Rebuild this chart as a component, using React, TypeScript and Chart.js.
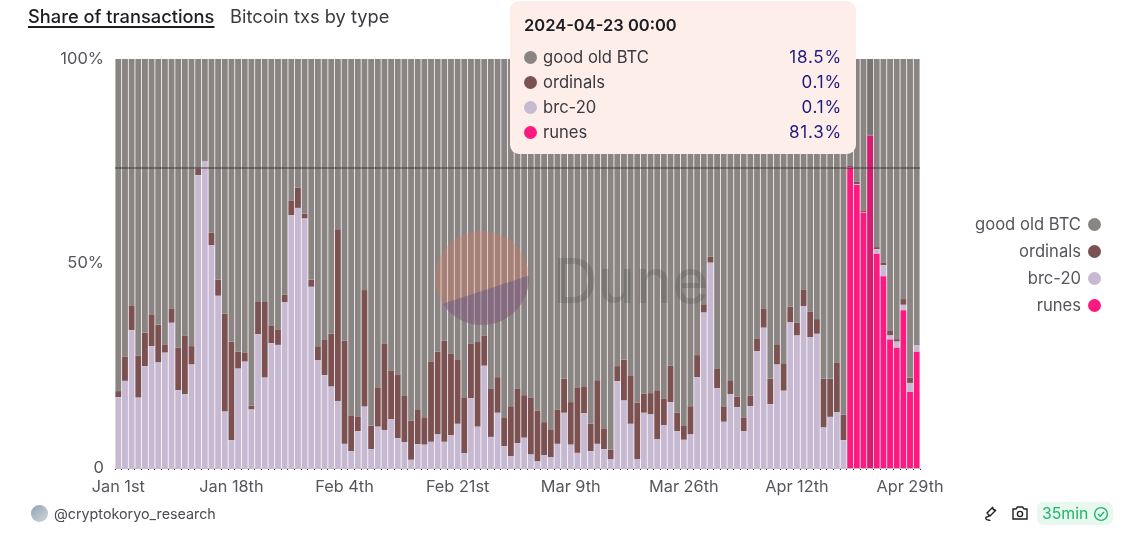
import { useEffect, useRef } from 'react';
import { Chart, registerables, type Plugin } from 'chart.js';

Chart.register(...registerables);

const FONT = 'Inter, "Noto Sans", sans-serif';
const TICK_COLOR = '#55555c';

const tickLabels = ['Jan 1st', 'Jan 18th', 'Feb 4th', 'Feb 21st', 'Mar 9th', 'Mar 26th', 'Apr 12th', 'Apr 29th'];
const yTicks: Record<number, string> = { 0: '0', 50: '50%', 100: '100%' };

const runes = [
  ...Array(110).fill(0),
  73.4, 69.2, 62.5, 81.3, 52.4, 46.9, 31.4, 29.4, 38.6, 18.6, 28.4,
];
const brc20 = [
  17.3, 21.3, 33.7, 17.2, 24.9, 29.8, 25.8, 28.2, 35.5, 19.0, 18.1, 25.3, 71.6, 75.1, 54.5, 42.1, 13.8, 6.8, 24.3, 26.0,
  14.3, 32.7, 22.1, 30.5, 30.1, 40.5, 61.8, 63.6, 61.0, 44.3, 26.4, 22.7, 19.9, 16.4, 5.9, 4.1, 9.0, 15.0, 4.6, 10.1,
  9.3, 11.9, 7.3, 6.3, 2.0, 5.8, 5.7, 6.4, 8.2, 6.4, 8.0, 10.8, 3.6, 17.1, 10.1, 25.0, 7.6, 13.5, 5.3, 2.9,
  6.1, 7.4, 3.3, 1.6, 3.1, 2.6, 5.9, 13.5, 5.7, 3.7, 13.4, 4.1, 5.9, 4.6, 2.1, 21.2, 16.5, 10.8, 2.1, 13.5,
  13.1, 7.0, 10.5, 16.1, 9.0, 6.9, 8.2, 22.2, 38.0, 50.2, 19.5, 11.3, 18.1, 14.9, 9.0, 15.1, 28.6, 34.3, 15.6, 25.3,
  18.9, 35.6, 32.4, 39.6, 32.0, 32.8, 9.9, 12.5, 13.6, 6.8, 0.1, 0.2, 0.1, 0.1, 1.1, 2.7, 1.0, 1.5, 1.3, 2.2, 1.6,
];
const ordinals = [
  1.5, 5.9, 6.0, 10.3, 8.2, 7.7, 9.2, 2.0, 3.5, 10.4, 14.3, 4.5, 1.5, 0.2, 3.0, 3.9, 23.9, 24.1, 4.1, 2.2,
  0.9, 7.9, 18.5, 4.3, 3.8, 1.9, 3.6, 4.9, 1.2, 1.7, 3.2, 8.6, 12.9, 42.0, 25.2, 8.7, 3.6, 28.5, 5.7, 9.6,
  21.1, 11.9, 15.6, 11.3, 9.6, 8.4, 6.7, 19.6, 20.2, 24.7, 20.0, 15.6, 13.6, 13.3, 20.7, 7.4, 11.8, 8.7, 7.1, 12.2,
  13.3, 10.4, 13.9, 12.4, 8.1, 6.7, 8.4, 8.3, 10.4, 16.0, 6.4, 6.7, 15.4, 5.1, 2.4, 3.7, 10.0, 11.7, 13.9, 4.7,
  5.2, 12.0, 6.5, 8.9, 4.5, 3.5, 6.9, 5.4, 2.0, 1.5, 4.7, 3.7, 3.2, 2.5, 3.3, 2.6, 3.1, 4.7, 6.2, 4.8,
  6.7, 3.8, 3.1, 4.0, 6.2, 3.6, 11.9, 9.3, 12.2, 6.2, 0.5, 0.6, 0.4, 0.1, 0.5, 0.6, 1.1, 0.6, 1.4, 1.3, 0.1,
];
const goodOldBtc = [
  81.2, 72.8, 60.3, 72.5, 66.9, 62.5, 65.0, 69.8, 61.0, 70.6, 67.6, 70.2, 26.9, 24.7, 42.5, 54.0, 62.3, 69.1, 71.6, 71.8,
  84.8, 59.4, 59.4, 65.2, 66.1, 57.6, 34.6, 31.5, 37.8, 54.0, 70.4, 68.7, 67.2, 41.6, 68.9, 87.2, 87.4, 56.5, 89.7, 80.3,
  69.6, 76.2, 77.1, 82.4, 88.4, 85.8, 87.6, 74.0, 71.6, 68.9, 72.0, 73.6, 82.8, 69.6, 69.2, 67.6, 80.6, 77.8, 87.6, 84.9,
  80.6, 82.2, 82.8, 86.0, 88.8, 90.7, 85.7, 78.2, 83.9, 80.3, 80.2, 89.2, 78.7, 90.3, 95.5, 75.1, 73.5, 77.5, 84.0, 81.8,
  81.7, 81.0, 83.0, 75.0, 86.5, 89.6, 84.9, 72.4, 60.0, 48.3, 75.8, 85.0, 78.7, 82.6, 87.7, 82.3, 68.3, 61.0, 78.2, 69.9,
  74.4, 60.6, 64.5, 56.4, 61.8, 63.6, 78.2, 78.2, 74.2, 87.0, 26.0, 30.0, 37.0, 18.5, 46.0, 49.8, 66.5, 68.5, 58.7, 77.9, 69.9,
];

const categories = runes.map((_, i) => new Date(Date.UTC(2024, 0, 1 + i)).toISOString().slice(0, 10));

const hoverIndex = 113;
const hoverY = 73.4;

// top to bottom, as the legend and the tooltip list them
const series = [
  { name: 'good old BTC', color: '#8a8583', values: goodOldBtc },
  { name: 'ordinals', color: '#7b5251', values: ordinals },
  { name: 'brc-20', color: '#c6b9d1', values: brc20 },
  { name: 'runes', color: '#fd1a80', values: runes },
];

const crosshair: Plugin<'bar'> = {
  id: 'crosshair',
  afterDatasetsDraw(chart) {
    const { ctx, chartArea, scales } = chart;
    const cx = scales.x.getPixelForValue(hoverIndex);
    const y = scales.y.getPixelForValue(hoverY);
    const step = chartArea.width / categories.length;
    ctx.save();
    ctx.fillStyle = 'rgba(40,40,40,0.18)';
    ctx.fillRect(cx - step / 2, chartArea.top, step, chartArea.height);
    ctx.strokeStyle = 'rgba(30,30,30,0.5)';
    ctx.lineWidth = 1.4;
    ctx.beginPath();
    ctx.moveTo(chartArea.left, Math.round(y));
    ctx.lineTo(chartArea.right, Math.round(y));
    ctx.stroke();
    ctx.restore();
  },
};

function Dot({ color, x, y }: { color: string; x: number; y: number }) {
  return <div style={{ position: 'absolute', left: x - 6.5, top: y - 6.5, width: 13, height: 13, borderRadius: '50%', background: color }} />;
}

function Text({ x, y, right, size = 16, color = '#4b4b52', weight = 400, children, style }: any) {
  return (
    <span
      style={{
        position: 'absolute',
        left: x,
        right: right,
        top: y,
        transform: 'translateY(-50%)',
        font: `${weight} ${size}px ${FONT}`,
        color,
        whiteSpace: 'nowrap',
        ...style,
      }}
    >
      {children}
    </span>
  );
}

export default function App() {
  const canvasRef = useRef<HTMLCanvasElement>(null);

  useEffect(() => {
    const canvas = canvasRef.current;
    if (!canvas) return;

    const chart = new Chart(canvas, {
      type: 'bar',
      data: {
        labels: categories,
        // drawn bottom up
        datasets: [...series].reverse().map((s) => ({
          label: s.name,
          data: s.values,
          backgroundColor: s.color,
          borderWidth: 0,
          barPercentage: 0.88,
          categoryPercentage: 1,
        })),
      },
      options: {
        animation: false,
        responsive: false,
        devicePixelRatio: 1,
        layout: { padding: { top: 59, right: 203, bottom: 0, left: 0 } },
        plugins: { legend: { display: false }, tooltip: { enabled: false } },
        scales: {
          x: {
            stacked: true,
            afterFit: (s) => {
              s.height = 82;
            },
            border: { color: '#c4bfc8' },
            grid: { drawOnChartArea: false, tickLength: 2, tickColor: '#333' },
            ticks: {
              autoSkip: false,
              maxRotation: 0,
              padding: 7,
              color: TICK_COLOR,
              font: { family: FONT, size: 16.3 },
              callback: (_, i) => (i % 17 === 0 ? tickLabels[i / 17] : ''),
            },
          },
          y: {
            stacked: true,
            min: 0,
            max: 100,
            afterFit: (s) => {
              s.width = 115;
            },
            border: { display: false },
            grid: { display: false },
            ticks: {
              stepSize: 50,
              padding: 3,
              color: TICK_COLOR,
              font: { family: FONT, size: 16.5 },
              callback: (v) => yTicks[Number(v)] ?? '',
            },
          },
        },
      },
      plugins: [crosshair],
    });

    return () => chart.destroy();
  }, []);

  return (
    <div style={{ position: 'absolute', left: 0, top: 0, width: 1123, height: 550, overflow: 'hidden', background: '#fff', fontFamily: FONT }}>
      <canvas ref={canvasRef} width={1123} height={550} style={{ position: 'absolute', left: 0, top: 0 }} />

      {/* watermark */}
      <svg width={1123} height={550} style={{ position: 'absolute', left: 0, top: 0 }}>
        <defs>
          <clipPath id="logo">
            <circle cx={482} cy={278} r={47} />
          </clipPath>
        </defs>
        <g clipPath="url(#logo)">
          <rect x={430} y={225} width={110} height={110} fill="rgba(240,120,90,0.26)" />
          <polygon points="430,308 540,272 540,335 430,335" fill="rgba(60,60,140,0.3)" />
        </g>
        <text x={553} y={303} fontFamily={FONT} fontSize={62} fontWeight={500} fill="rgba(40,40,40,0.17)">
          Dune
        </text>
      </svg>

      <Text x={28} y={16} size={18.3} weight={500} color="#1c1c22" style={{ textDecoration: 'underline', textDecorationThickness: 2, textUnderlineOffset: 3 }}>
        Share of transactions
      </Text>
      <Text x={230} y={16} size={18.3} color="#3a3a40">
        Bitcoin txs by type
      </Text>

      {/* tooltip */}
      <div style={{ position: 'absolute', left: 510, top: 1, width: 346, height: 153, background: '#fdeeea', borderRadius: 9 }}>
        <Text x={14} y={24} size={16.5} weight={600} color="#1c1c22">
          {categories[hoverIndex]} 00:00
        </Text>
        {series.map((s, i) => (
          <div key={s.name}>
            <Dot color={s.color} x={20} y={56 + i * 25} />
            <Text x={33} y={55.5 + i * 25} size={16.6} color="#3a3a40">
              {s.name}
            </Text>
            <Text right={14} y={55.5 + i * 25} size={17} color="#1d1a80" style={{ letterSpacing: 0.8 }}>
              {s.values[hoverIndex].toFixed(1)}%
            </Text>
          </div>
        ))}
      </div>

      {/* legend */}
      {series.map((s, i) => (
        <div key={s.name}>
          <Text right={42} y={223.5 + i * 27} size={16.6} color="#55555c">
            {s.name}
          </Text>
          <Dot color={s.color} x={1094} y={224 + i * 27} />
        </div>
      ))}

      {/* footer */}
      <div style={{ position: 'absolute', left: 31, top: 505, width: 17, height: 17, borderRadius: '50%', background: 'linear-gradient(135deg,#8fa3b5,#cfd8d8)' }} />
      <Text x={54} y={513} size={14.3} color="#4b4b52">
        @cryptokoryo_research
      </Text>
      <svg width={20} height={20} viewBox="0 0 20 20" style={{ position: 'absolute', left: 980, top: 504 }} fill="none" stroke="#222" strokeWidth={1.4}>
        <path d="M7 9l5-5 3 3-5 5zM12 3l1.5 1.5M16 7l-1.5-1.5M9 12c-2 1-4 1-3 3s4 0 4 2" />
      </svg>
      <svg width={18} height={16} viewBox="0 0 18 16" style={{ position: 'absolute', left: 1011, top: 505 }} fill="none" stroke="#222" strokeWidth={1.4}>
        <path d="M2 4h3l1.5-2h5L13 4h3v10H2z" />
        <circle cx={9} cy={9} r={2.6} />
      </svg>
      <div style={{ position: 'absolute', left: 1037, top: 502, width: 76, height: 23, background: '#e8f8ef', borderRadius: 6 }} />
      <Text x={1042} y={513} size={15.8} color="#1db56c">
        35min
      </Text>
      <svg width={16} height={16} viewBox="0 0 16 16" style={{ position: 'absolute', left: 1093, top: 506 }} fill="none" stroke="#1db56c" strokeWidth={1.4}>
        <circle cx={8} cy={8} r={6.4} />
        <path d="M5 8l2.2 2.2L11 6" />
      </svg>
    </div>
  );
}
